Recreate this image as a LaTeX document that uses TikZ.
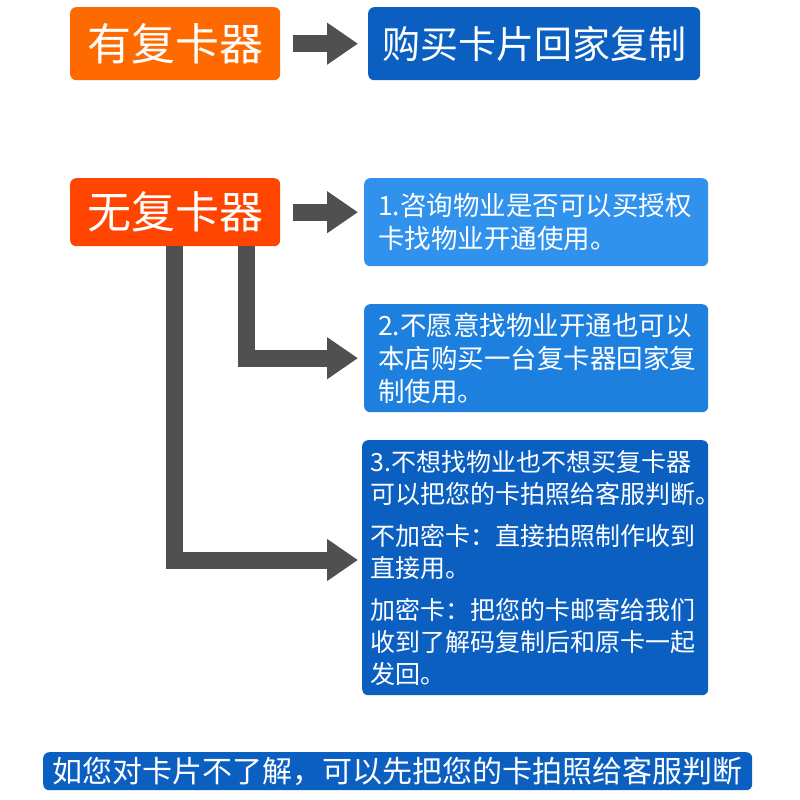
\documentclass[tikz,border=0pt]{standalone}
\usepackage{fontspec}
\setmainfont{Noto Sans CJK SC}
\usetikzlibrary{arrows.meta}
\definecolor{orangeA}{HTML}{FF6A00}
\definecolor{orangeB}{HTML}{FF4500}
\definecolor{blueD}{HTML}{0B5FC1}
\definecolor{blueL}{HTML}{3092EC}
\definecolor{blueM}{HTML}{1E80DE}
\definecolor{grayA}{HTML}{505050}
\tikzset{
  box/.style={rounded corners=6pt, text=white, anchor=north west, inner sep=0pt},
  titlebox/.style={box, font=\fontsize{44}{50}\selectfont},
  infobox/.style={box, align=left, inner xsep=14pt},
  conn/.style={draw=grayA, line width=17pt, -{Triangle[length=31pt,width=40pt]}}
}
\begin{document}
\begin{tikzpicture}[x=1pt,y=-1pt]
\useasboundingbox (0,0) rectangle (800,800);
\fill[white] (0,0) rectangle (800,800);

\node[titlebox, fill=orangeA, minimum width=210pt, minimum height=73pt] (you) at (70,7) {有复卡器};
\node[titlebox, fill=blueD, minimum width=332pt, minimum height=73pt, font=\fontsize{38}{44}\selectfont] (buy) at (368,7) {购买卡片回家复制};

\node[titlebox, fill=orangeB, minimum width=210pt, minimum height=68pt] (wu) at (70,178) {无复卡器};

\node[infobox, fill=blueL, text width=316pt, minimum height=88pt, font=\fontsize{26.5}{33}\selectfont] (b1) at (364,178)
  {1.咨询物业是否可以买授权\\卡找物业开通使用。};
\node[infobox, fill=blueM, text width=316pt, minimum height=108pt, font=\fontsize{26.5}{33}\selectfont] (b2) at (364,304)
  {2.不愿意找物业开通也可以\\本店购买一台复卡器回家复\\制使用。};
\node[infobox, fill=blueD, inner xsep=8pt, text width=330pt, minimum height=255pt, font=\fontsize{25}{32}\selectfont] (b3) at (362,440)
  {3.不想找物业也不想买复卡器\\可以把您的卡拍照给客服判断。\\[10pt]不加密卡：直接拍照制作收到\\直接用。\\[10pt]加密卡：把您的卡邮寄给我们\\收到了解码复制后和原卡一起\\发回。};

\node[box, fill=blueD, minimum width=709pt, minimum height=38pt, font=\fontsize{30}{34}\selectfont] (note) at (43,752)
  {如您对卡片不了解，可以先把您的卡拍照给客服判断};

\coordinate (s1) at (174,246);
\coordinate (s2) at (246,246);
\coordinate (t3) at (362,560);

\draw[conn, shorten <=13pt, shorten >=10pt] (you.east) -- (buy.west);
\draw[conn, shorten <=13pt, shorten >=6pt] (wu.east) -- (wu.east -| b1.west);
\draw[conn, shorten >=6pt] (s2) |- (b2.west);
\draw[conn, shorten >=4pt] (s1) |- (t3);
\end{tikzpicture}
\end{document}
